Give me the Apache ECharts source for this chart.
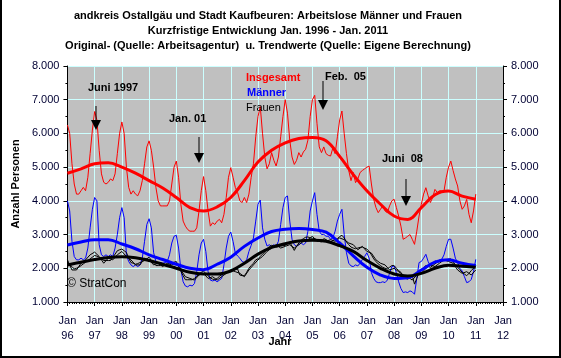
<!DOCTYPE html>
<html><head><meta charset="utf-8">
<script src="https://cdn.jsdelivr.net/npm/echarts@6/dist/echarts.min.js"></script>
<style>
html,body{margin:0;padding:0;background:#fff;}
#c{width:557px;height:356px;border-left:2px solid #000;border-right:2px solid #000;border-bottom:2px solid #000;}
</style></head>
<body><div id="c"></div>
<script>
// x axis tick labels (years)
const yearLabels = ['96','97','98','99','00','01','02','03','04','05','06','07','08','09','10','11','12'];

// Monthly original values, Jan 1996 .. Jan 2011
const insgesamt = [
 6250,6000,5100,4500,4200,4200,4300,4400,4300,4700,5400,6100,
 6650,6400,5500,4800,4550,4500,4550,4650,4600,4800,5400,6000,
 6340,6000,5000,4400,4200,4300,4200,4150,4300,4600,5100,5600,
 5780,5500,5000,4400,4000,3850,3850,3850,3850,4000,4500,5000,
 5180,4700,3900,3400,3250,3150,3100,3100,3100,3200,3700,4300,
 4720,4300,3700,3250,3350,3300,3400,3450,3350,3600,4100,4700,
 4985,4700,4400,4250,4000,3950,4100,3950,4200,4700,5100,5900,
 6500,6800,6000,5300,4950,5100,5430,5200,5034,5300,5900,6500,
 7000,6600,5800,5300,5080,5200,5430,5300,5450,5530,5800,6500,
 7000,7130,6300,5600,5430,5600,5400,5350,5330,5570,5400,5900,
 6400,6665,6000,5400,4900,4600,4840,4540,4650,4840,4900,4950,
 5000,5030,4500,4045,3800,3650,3750,3850,3700,3650,3850,4000,
 4050,3800,3550,3250,2860,2900,2950,3000,2860,2710,3100,3550,
 3900,4200,4390,4150,3950,4100,4340,4250,4300,4300,4300,4700,
 5000,5180,4900,4650,4440,4000,3750,3850,4045,3600,3350,3700,
 4200
];
const maenner = [
 4000,3700,2800,2350,2250,2250,2300,2250,2300,2600,3200,3750,
 4100,4000,2700,2400,2350,2400,2350,2400,2350,2600,3000,3500,
 3800,3500,2400,2200,2100,2050,2100,2050,2100,2300,2800,3300,
 3470,3200,2460,2200,2150,2170,2150,2170,2200,2400,2750,2950,
 2980,2600,1970,1600,1475,1450,1500,1475,1550,1900,2400,2750,
 2860,2500,1900,1650,1625,1650,1600,1650,1700,2100,2600,2950,
 3076,2800,2450,2365,2300,2200,2170,2250,2500,2680,2900,3400,
 3900,4025,3200,2860,2660,2700,2650,2700,2650,2800,3300,3800,
 4100,4145,3400,2860,2700,2650,2700,2750,2700,2750,3100,3700,
 4000,4243,3600,3100,3000,3007,2950,2950,2860,2900,3100,3400,
 3600,3750,3000,2460,2150,2070,2050,2100,2070,2150,2260,2350,
 2460,2300,1870,1700,1600,1575,1575,1600,1575,1650,1850,2050,
 2070,1870,1600,1400,1280,1300,1280,1330,1300,1230,1700,2170,
 2200,2300,2415,2200,2070,2150,2220,2200,2250,2265,2400,2650,
 2860,2860,2600,2300,2170,2000,1920,1750,1575,1600,1670,1900,
 2265
];
const frauen = [
 2180,2100,2050,1980,2000,2030,2080,2130,2180,2230,2280,2330,
 2380,2360,2330,2280,2230,2230,2230,2230,2330,2420,2520,2550,
 2570,2520,2470,2300,2170,2150,2120,2140,2170,2200,2230,2280,
 2330,2230,2150,2080,2080,2080,2080,2100,2120,2130,2160,2180,
 2200,2050,1910,1780,1660,1660,1660,1660,1700,1760,1830,1880,
 1910,1850,1780,1710,1680,1660,1700,1760,1810,1850,1880,1900,
 1910,1930,1960,1980,1800,1780,1780,1880,2000,2080,2150,2250,
 2280,2350,2420,2480,2580,2650,2680,2660,2630,2640,2660,2670,
 2680,2730,2780,2650,2530,2650,2750,2830,2880,2920,2930,2900,
 2890,2880,2850,2800,2780,2880,2850,2800,2780,2820,2860,2880,
 2940,2980,2900,2780,2700,2630,2600,2580,2600,2620,2630,2600,
 2570,2500,2400,2280,2200,2130,2080,2030,2000,1980,2030,2080,
 2080,2000,1930,1880,1780,1700,1680,1720,1780,1530,1700,1880,
 1950,2020,2080,2060,2030,2080,2130,2180,2200,2220,2230,2250,
 2270,2280,2200,2100,2030,1960,1880,1830,1780,1850,1930,2000,
 2080
];
// second thin black line (every second month)
const frauen2Months = [0,2,4,6,8,10,12,14,16,18,20,22,24,26,28,30,32,34,36,38,40,42,44,46,48,50,52,54,56,58,60,62,64,66,68,70,72,74,76,78,80,82,84,86,88,90,92,94,96,98,100,102,104,106,108,110,112,114,116,118,120,122,124,126,128,130,132,134,136,138,140,142,144,146,148,150,152,154,156,158,160,162,164,166,168,170,172,174,176,178,180];
const frauen2 = [
 2250,1950,1950,2150,2250,2400,2480,2350,2150,2300,2250,2400,
 2500,2350,2250,2100,2100,2300,2250,2100,2150,2050,2150,2100,
 2150,1950,1750,1700,1650,1800,1850,1700,1750,1650,1750,1850,
 1950,1900,1850,1750,1950,2100,2250,2350,2500,2600,2700,2600,
 2650,2700,2600,2700,2800,2850,2950,2800,2850,2800,2850,2800,
 2900,2850,2750,2700,2550,2650,2500,2450,2250,2150,2100,1950,
 2000,1900,1800,1750,1650,1800,1850,2000,2100,2050,2150,2250,
 2200,2150,1950,1850,1900,1800,1950
];

// Trend values (half-yearly support points)
const trendMonths = [0,6,12,18,24,30,36,42,48,54,60,66,72,78,84,90,96,102,108,114,120,126,132,138,144,150,156,162,168,174,180];
const trendInsgesamt = [4820,4950,5100,5130,5000,4820,4600,4380,4100,3800,3700,3820,4100,4600,5150,5500,5720,5850,5880,5780,5320,4780,4300,3900,3550,3450,3800,4180,4290,4140,4050];
const trendMaenner   = [2690,2780,2850,2850,2720,2580,2400,2260,2120,2000,1960,2120,2330,2650,2900,3090,3160,3180,3150,3070,2750,2370,2030,1800,1700,1720,1950,2180,2250,2150,2080];
const trendFrauen    = [2100,2180,2260,2320,2340,2310,2230,2120,2000,1880,1830,1830,1920,2150,2420,2620,2730,2810,2830,2800,2670,2500,2230,2000,1830,1770,1850,2000,2090,2060,2030];

const FONT = 'Arial, "Liberation Sans", sans-serif';
const LBL = '#000033';
const pairs = (xs, vs) => vs.map((v, i) => [xs[i], v]);
const monthly = vs => vs.map((v, i) => [i, v]);
const fmtK = v => Math.round(v / 1000) + '.000';

const chart = echarts.init(document.getElementById('c'), null, {renderer: 'canvas'});

const thin = (data, color) => ({type: 'line', data, showSymbol: false, symbol: 'none', lineStyle: {color, width: 1}, animation: false, z: 2});
const thick = (data, color) => ({type: 'line', data, showSymbol: false, symbol: 'none', smooth: 0.4, lineStyle: {color, width: 3}, animation: false, z: 3});

// canvas starts 2px right of the page edge (border); graphic coords are canvas coords
function arrow(x, y1, y2) {
  const hy = y2 - 10;
  return [
    {type: 'line', shape: {x1: x, y1: y1, x2: x, y2: hy}, style: {stroke: '#000', lineWidth: 1}, z: 10},
    {type: 'polygon', shape: {points: [[x - 5, hy], [x + 5, hy], [x, y2]]}, style: {fill: '#000'}, z: 10}
  ];
}
function txt(t, x, y, opts) {
  return {type: 'text', z: 10, style: Object.assign({text: t, x, y, font: 'bold 11px ' + FONT, fill: '#000', textVerticalAlign: 'middle', textAlign: 'left'}, opts || {})};
}

chart.setOption({
  animation: false,
  backgroundColor: '#fff',
  grid: {left: 59, top: 66, right: 56, bottom: 54, show: true, backgroundColor: '#c0c0c0', borderWidth: 0},
  xAxis: {
    type: 'value', min: 0, max: 192, interval: 12,
    axisLine: {show: true, onZero: false, lineStyle: {color: '#000', width: 1}},
    axisTick: {show: true, length: 4, lineStyle: {color: '#000'}},
    minorTick: {show: true, splitNumber: 12, length: 2, lineStyle: {color: '#000'}},
    splitLine: {show: true, lineStyle: {color: '#ccffff', width: 1}},
    axisLabel: {formatter: v => 'Jan\n' + yearLabels[Math.round(v / 12)], color: LBL, fontFamily: FONT, fontSize: 11, lineHeight: 15, margin: 11}
  },
  yAxis: [{
    type: 'value', min: 1000, max: 8000, interval: 1000, position: 'left',
    name: 'Anzahl Personen', nameLocation: 'middle', nameGap: 40, nameRotate: 90,
    nameTextStyle: {fontFamily: FONT, fontWeight: 'bold', fontSize: 11, color: '#000'},
    axisLine: {show: true, lineStyle: {color: '#000'}},
    axisTick: {show: true, length: 4, lineStyle: {color: '#000'}},
    minorTick: {show: true, splitNumber: 2, length: 2, lineStyle: {color: '#000'}},
    splitLine: {show: true, lineStyle: {color: '#ccffff', width: 1}},
    axisLabel: {formatter: fmtK, color: LBL, fontFamily: FONT, fontSize: 11, margin: 8}
  }, {
    type: 'value', min: 1000, max: 8000, interval: 1000, position: 'right',
    axisLine: {show: true, lineStyle: {color: '#000'}},
    axisTick: {show: true, length: 4, lineStyle: {color: '#000'}},
    minorTick: {show: true, splitNumber: 2, length: 2, lineStyle: {color: '#000'}},
    splitLine: {show: false},
    axisLabel: {formatter: fmtK, color: LBL, fontFamily: FONT, fontSize: 11, margin: 8}
  }],
  series: [
    thin(monthly(insgesamt), '#ff0000'),
    thin(monthly(maenner), '#0000ff'),
    thin(pairs(frauen2Months, frauen2), '#000000'),
    thin(monthly(frauen), '#000000'),
    thick(pairs(trendMonths, trendMaenner), '#0000ff'),
    thick(pairs(trendMonths, trendFrauen), '#000000'),
    thick(pairs(trendMonths, trendInsgesamt), '#ff0000')
  ],
  graphic: [
    txt('andkreis Ostallgäu und Stadt Kaufbeuren: Arbeitslose Männer und Frauen', 266, 16, {textAlign: 'center'}),
    txt('Kurzfristige Entwicklung Jan. 1996 - Jan. 2011', 266, 31, {textAlign: 'center'}),
    txt('Original- (Quelle: Arbeitsagentur)  u. Trendwerte (Quelle: Eigene Berechnung)', 266, 46, {textAlign: 'center'}),
    txt('Juni 1997', 86, 88),
    txt('Jan. 01', 167, 119),
    txt('Feb.  05', 323, 77),
    txt('Juni  08', 380, 159),
    txt('Insgesamt', 244, 78, {fill: '#ff0000'}),
    txt('Männer', 245, 93, {fill: '#0000ff'}),
    txt('Frauen', 244, 108, {font: '11px ' + FONT}),
    txt('© StratCon', 65, 284, {font: '12px ' + FONT}),
    txt('Jahr', 278, 342, {textAlign: 'center'}),
    ...arrow(94, 106, 130),
    ...arrow(197, 137, 163),
    ...arrow(321, 81, 110),
    ...arrow(404, 179, 206)
  ]
});
</script></body></html>
